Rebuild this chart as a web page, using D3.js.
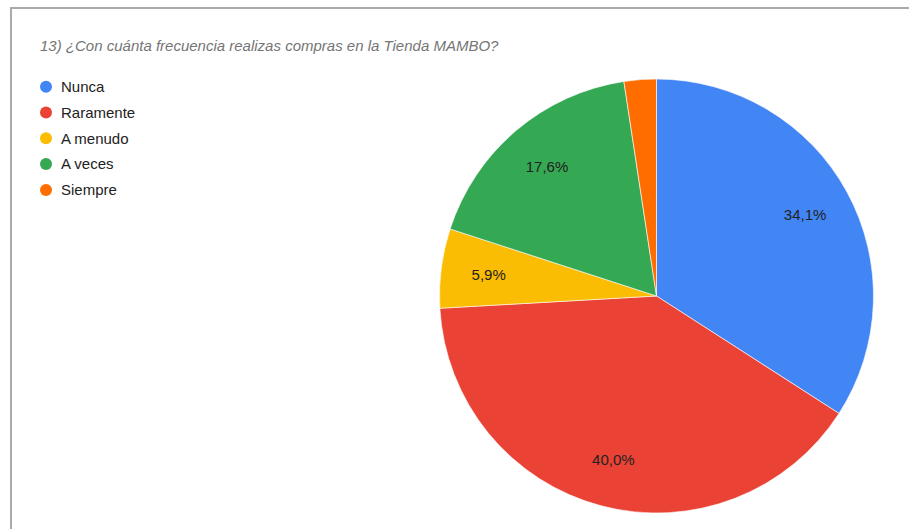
<!DOCTYPE html>
<html>
<head>
<meta charset="utf-8">
<script src="https://cdn.jsdelivr.net/npm/d3@7"></script>
<style>
  html, body { margin: 0; padding: 0; background: #fff; }
  svg { display: block; }
</style>
</head>
<body>
<svg id="chart" width="909" height="529"></svg>
<script>
// Survey answers, in slice order (clockwise from 12 o'clock)
const categories = ["Nunca", "Raramente", "A menudo", "A veces", "Siempre"];
const values = [34.1, 40.0, 5.9, 17.6, 2.4];
const colors = ["#4285f4", "#ea4335", "#fbbc04", "#34a853", "#ff6d01"];
const title = "13) ¿Con cuánta frecuencia realizas compras en la Tienda MAMBO?";

const svg = d3.select("#chart");
const W = 909, H = 529;
const font = "Arial, 'Liberation Sans', sans-serif";

// card frame: top and left edges
svg.append("path")
  .attr("d", `M11,${H} L11,8 L${W},8`)
  .attr("fill", "none")
  .attr("stroke", "#aaaaaa")
  .attr("stroke-width", 2);

svg.append("text")
  .attr("x", 40).attr("y", 51)
  .attr("font-family", font)
  .attr("font-size", 15)
  .attr("font-style", "italic")
  .attr("fill", "#757575")
  .text(title);

// legend
const legend = svg.append("g");
const rowH = 25.8;
categories.forEach((c, i) => {
  const y = 86.7 + i * rowH;
  legend.append("circle")
    .attr("cx", 46).attr("cy", y).attr("r", 6)
    .attr("fill", colors[i]);
  legend.append("text")
    .attr("x", 61).attr("y", y + 5.3)
    .attr("font-family", font)
    .attr("font-size", 15)
    .attr("fill", "#222222")
    .text(c);
});

// pie
const cx = 656.5, cy = 296, R = 217;
const color = d3.scaleOrdinal().domain(categories).range(colors);
const pie = d3.pie().sort(null).value(d => d.value);
const data = categories.map((c, i) => ({ name: c, value: values[i] }));
const arcs = pie(data);
const arc = d3.arc().innerRadius(0).outerRadius(R);
const labelArc = d3.arc().innerRadius(R * 0.78).outerRadius(R * 0.78);

const g = svg.append("g").attr("transform", `translate(${cx},${cy})`);
g.selectAll("path.slice")
  .data(arcs)
  .join("path")
  .attr("class", "slice")
  .attr("d", arc)
  .attr("fill", d => color(d.data.name))
  .attr("stroke", "#ffffff")
  .attr("stroke-width", 0.6);

const fmt = v => v.toFixed(1).replace(".", ",") + "%";
g.selectAll("text.val")
  .data(arcs.filter(d => d.data.value >= 5))
  .join("text")
  .attr("class", "val")
  .attr("transform", d => `translate(${labelArc.centroid(d)})`)
  .attr("text-anchor", "middle")
  .attr("dy", "0.35em")
  .attr("font-family", font)
  .attr("font-size", 15)
  .attr("fill", "#222222")
  .text(d => fmt(d.data.value));
</script>
</body>
</html>
